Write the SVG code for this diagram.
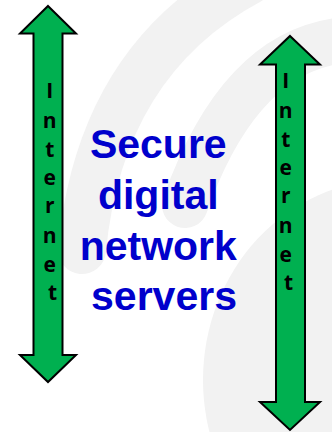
<svg xmlns="http://www.w3.org/2000/svg" width="332" height="432" viewBox="0 0 332 432">
  <style>
    .bg { fill: #f2f2f2; }
    .band { fill: none; stroke: #f2f2f2; stroke-linecap: round; }
    .arrow { fill: #00B050; stroke: #000000; stroke-width: 2; stroke-linejoin: miter; }
    .vlabel { font-family: "Open Sans", "DejaVu Sans", sans-serif; font-weight: bold; font-size: 21px; fill: #000000; text-anchor: middle; }
    .title { font-family: "Liberation Sans", Arial, sans-serif; font-weight: bold; font-size: 41px; fill: #0000CC; text-anchor: middle; }
  </style>
  <rect width="332" height="432" fill="#ffffff"/>
  <g id="background">
    <path class="band" stroke-width="48" d="M 250,-20 Q 100,60 82,250"/>
    <path class="band" stroke-width="46" d="M 345,40 Q 240,50 185,205"/>
    <ellipse class="bg" cx="390" cy="380" rx="187" ry="200"/>
  </g>
  <g id="connectors"></g>
  <g id="internet-left">
    <polygon class="arrow" points="48,6 76,33.5 62.5,33.5 62.5,355 76,355 48,382 20,355 33.5,355 33.5,33.5 20,33.5"/>
    <text class="vlabel">
      <tspan x="52.5" y="98">I</tspan>
      <tspan x="52.5" y="128">n</tspan>
      <tspan x="52.5" y="157">t</tspan>
      <tspan x="52.5" y="185">e</tspan>
      <tspan x="52.5" y="213">r</tspan>
      <tspan x="52.5" y="243">n</tspan>
      <tspan x="52.5" y="272">e</tspan>
      <tspan x="52.5" y="300">t</tspan>
    </text>
  </g>
  <g id="internet-right">
    <polygon class="arrow" points="290,36 320,64.5 305,64.5 305,402 320,402 290,430 260,402 276,402 276,64.5 260,64.5"/>
    <text class="vlabel">
      <tspan x="288.5" y="88">I</tspan>
      <tspan x="288.5" y="118">n</tspan>
      <tspan x="288.5" y="147">t</tspan>
      <tspan x="288.5" y="175">e</tspan>
      <tspan x="288.5" y="203">r</tspan>
      <tspan x="288.5" y="233">n</tspan>
      <tspan x="288.5" y="262">e</tspan>
      <tspan x="288.5" y="290">t</tspan>
    </text>
  </g>
  <g id="title">
    <text class="title">
      <tspan x="164" y="158">Secure</tspan>
      <tspan x="164" y="209">digital</tspan>
      <tspan x="164" y="260">network</tspan>
      <tspan x="164" y="310">servers</tspan>
    </text>
  </g>
</svg>
